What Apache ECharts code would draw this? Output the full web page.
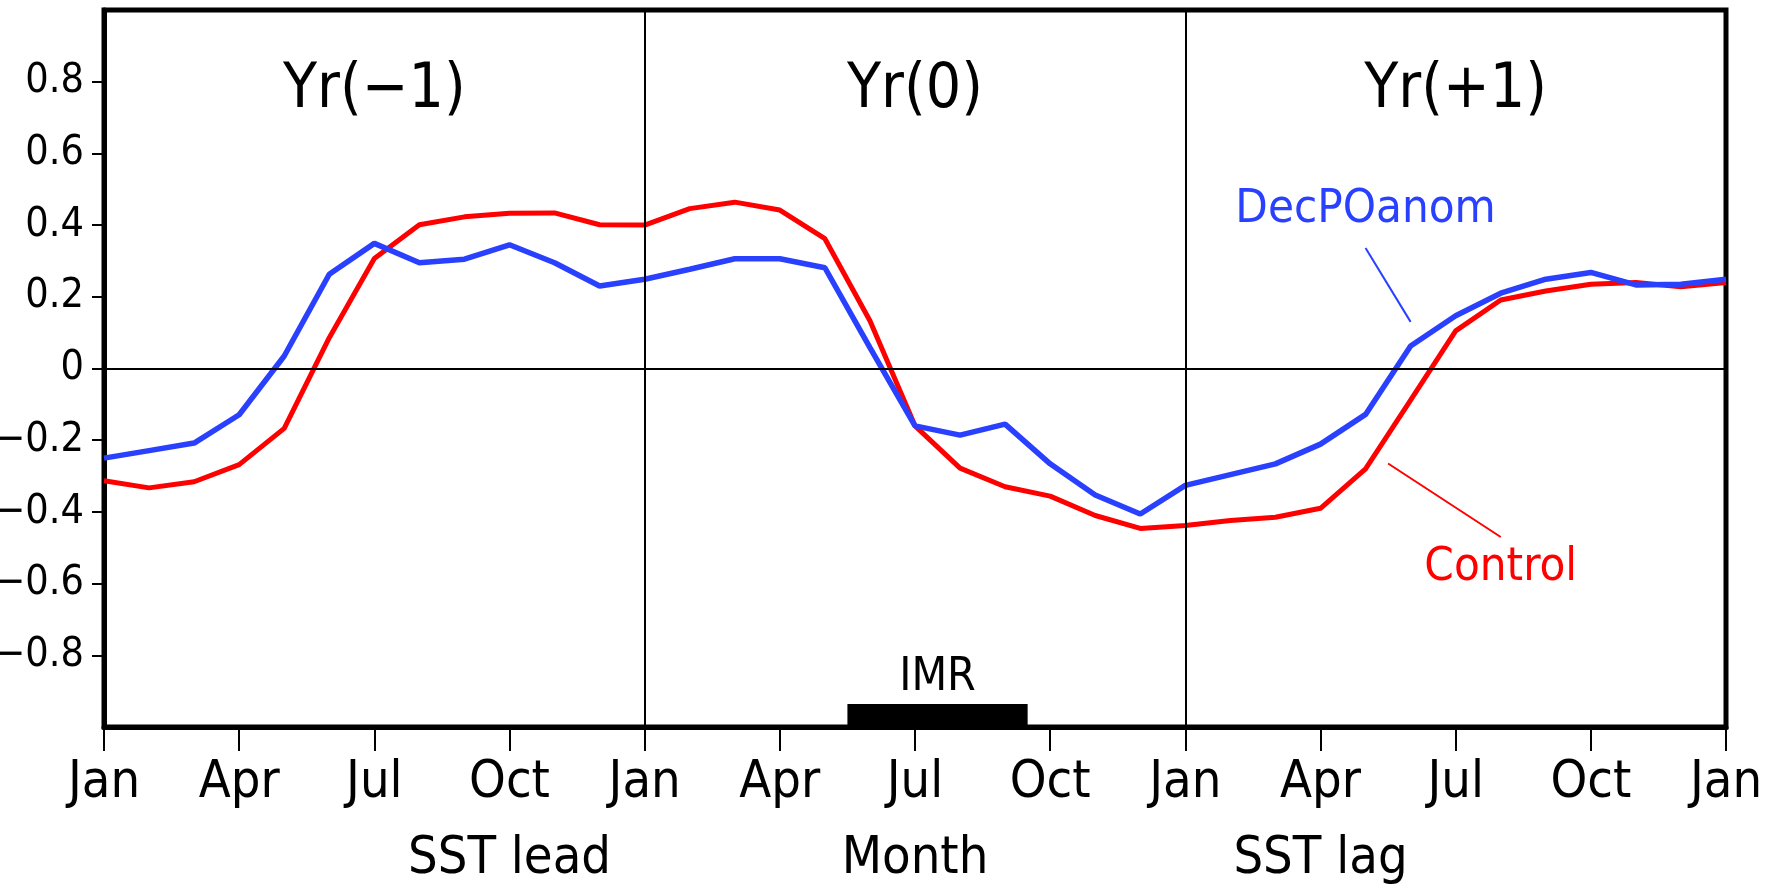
<!DOCTYPE html>
<html>
<head>
<meta charset="utf-8">
<script src="https://cdn.jsdelivr.net/npm/echarts@6/dist/echarts.min.js"></script>
<style>
html,body{margin:0;padding:0;background:#fff;}
#chart{width:1779px;height:884px;}
</style>
</head>
<body>
<div id="chart"></div>
<script>
// ---- data ----
const monthIndex = [0,1,2,3,4,5,6,7,8,9,10,11,12,13,14,15,16,17,18,19,20,21,22,23,24,25,26,27,28,29,30,31,32,33,34,35,36];
const controlValues = [-0.313,-0.333,-0.316,-0.268,-0.167,0.086,0.307,0.401,0.423,0.433,0.434,0.401,0.400,0.446,0.464,0.442,0.362,0.133,-0.160,-0.278,-0.330,-0.356,-0.410,-0.446,-0.438,-0.424,-0.415,-0.390,-0.280,-0.088,0.105,0.191,0.216,0.235,0.240,0.228,0.240];
const decPOValues = [-0.250,-0.229,-0.208,-0.129,0.035,0.263,0.349,0.295,0.305,0.345,0.295,0.230,0.249,0.277,0.306,0.306,0.281,0.058,-0.160,-0.186,-0.155,-0.266,-0.353,-0.406,-0.326,-0.296,-0.266,-0.211,-0.128,0.063,0.147,0.210,0.249,0.268,0.233,0.235,0.249];
const xTickLabels = ['Jan','Apr','Jul','Oct','Jan','Apr','Jul','Oct','Jan','Apr','Jul','Oct','Jan'];
const xGroupLabels = {9:'SST lead', 18:'Month', 27:'SST lag'};
const yTicks = [-0.8,-0.6,-0.4,-0.2,0,0.2,0.4,0.6,0.8];
const yTickLabels = ['\u22120.8','\u22120.6','\u22120.4','\u22120.2','0','0.2','0.4','0.6','0.8'];
const yearBoundaries = [12, 24];
const yearLabels = [['Yr(\u22121)', 6, 0.775], ['Yr(0)', 18, 0.775], ['Yr(+1)', 30, 0.775]];
const imrPeriod = [16.5, 20.5];
const imrBar = [-1, -0.936];
const decPOLabel = ['DecPOanom', 28.0, 0.443];
const decPOLeader = [[28.0, 0.336], [29.0, 0.130]];
const controlLabel = ['Control', 31.0, -0.557];
const controlLeader = [[28.5, -0.265], [31.0, -0.47]];

const FONT = "'Liberation Sans Narrow','DejaVu Sans Condensed','Liberation Sans',sans-serif";
const RED = '#ff0000';
const BLUE = '#2a40ff';

const chart = echarts.init(document.getElementById('chart'));
const zip = (xs, ys) => xs.map((x, i) => [x, ys[i]]);

chart.setOption({
  animation: false,
  backgroundColor: '#fff',
  textStyle: {fontFamily: FONT},
  grid: {left: 104, right: 53, top: 10, bottom: 157, show: true, borderColor: '#000', borderWidth: 5,
    containLabel: false, outerBoundsMode: 'none'},
  xAxis: [
    {
      type: 'value', min: 0, max: 36, interval: 3, position: 'bottom',
      axisLine: {show: true, onZero: false, lineStyle: {color: '#000', width: 5}},
      axisTick: {show: true, inside: false, length: 24, lineStyle: {color: '#000', width: 2}},
      splitLine: {show: false},
      axisLabel: {fontFamily: FONT, fontSize: 52, color: '#000', margin: 30,
        formatter: v => xTickLabels[Math.round(v / 3)] || ''}
    },
    {
      type: 'value', min: 0, max: 36, interval: 9, position: 'bottom', gridIndex: 0,
      axisLine: {show: false, onZero: false}, axisTick: {show: false}, splitLine: {show: false},
      axisLabel: {fontFamily: FONT, fontSize: 52, color: '#000', margin: 106,
        formatter: v => xGroupLabels[Math.round(v)] || ''}
    }
  ],
  yAxis: {
    type: 'value', min: -1, max: 1, interval: 0.2,
    axisLine: {show: true, onZero: false, lineStyle: {color: '#000', width: 5}},
    axisTick: {show: true, inside: false, length: 12, customValues: yTicks, lineStyle: {color: '#000', width: 2}},
    splitLine: {show: false},
    axisLabel: {fontFamily: FONT, fontSize: 41, color: '#000', margin: 20, customValues: yTicks,
      formatter: v => { const i = yTicks.findIndex(t => Math.abs(t - v) < 1e-6); return i >= 0 ? yTickLabels[i] : ''; }}
  },
  series: [
    {
      name: 'refs', type: 'line', data: [], silent: true,
      markLine: {
        silent: true, symbol: 'none', label: {show: false},
        lineStyle: {color: '#000', width: 2, type: 'solid'},
        data: [...yearBoundaries.map(x => ({xAxis: x})), {yAxis: 0}]
      },
      markArea: {
        silent: true,
        itemStyle: {color: '#000', opacity: 1},
        label: {show: true, position: 'top', distance: 3, color: '#000', fontFamily: FONT, fontSize: 46},
        data: [[{name: 'IMR', coord: [imrPeriod[0], imrBar[0]]}, {coord: [imrPeriod[1], imrBar[1]]}]]
      }
    },
    {
      name: 'Control', type: 'line', data: zip(monthIndex, controlValues),
      symbol: 'none', z: 3, lineStyle: {color: RED, width: 5}, itemStyle: {color: RED},
      markLine: {silent: true, symbol: 'none', label: {show: false}, lineStyle: {color: RED, width: 2, type: 'solid'},
        data: [[{coord: controlLeader[0]}, {coord: controlLeader[1]}]]}
    },
    {
      name: 'DecPOanom', type: 'line', data: zip(monthIndex, decPOValues),
      symbol: 'none', z: 4, lineStyle: {color: BLUE, width: 5.5}, itemStyle: {color: BLUE},
      markLine: {silent: true, symbol: 'none', label: {show: false}, lineStyle: {color: BLUE, width: 2, type: 'solid'},
        data: [[{coord: decPOLeader[0]}, {coord: decPOLeader[1]}]]}
    },
    {
      name: 'yearText', type: 'scatter', silent: true, symbolSize: 1, itemStyle: {color: 'rgba(0,0,0,0)', opacity: 1},
      label: {show: true, position: 'inside', formatter: p => p.value[2], color: '#000', textBorderWidth: 0, fontFamily: FONT, fontSize: 62},
      data: yearLabels.map(d => [d[1], d[2], d[0]])
    },
    {
      name: 'annText', type: 'scatter', silent: true, symbolSize: 1, itemStyle: {color: 'rgba(0,0,0,0)', opacity: 1},
      label: {show: true, position: 'inside', formatter: p => p.value[2], textBorderWidth: 0, fontFamily: FONT, fontSize: 47},
      data: [
        {value: [decPOLabel[1], decPOLabel[2], decPOLabel[0]], label: {color: BLUE}},
        {value: [controlLabel[1], controlLabel[2], controlLabel[0]], label: {color: RED}}
      ]
    }
  ]
});
</script>
</body>
</html>
